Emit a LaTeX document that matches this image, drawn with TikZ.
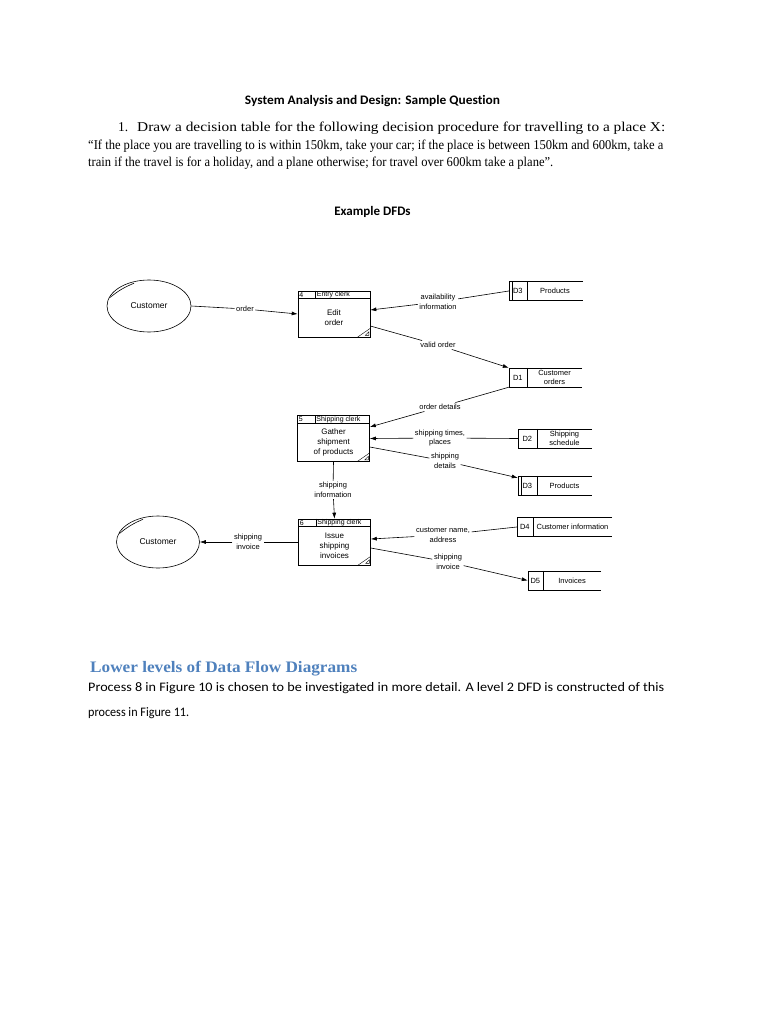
\documentclass[tikz,border=0pt]{standalone}
\usepackage{fontspec}
\usepackage{graphicx}
\setmainfont{Liberation Serif}
\newfontfamily\calib[Ligatures={NoCommon,NoRare,NoDiscretionary}]{Carlito}
\newfontfamily\arl{Liberation Sans}
\usetikzlibrary{arrows.meta,calc,shapes.geometric}
\definecolor{headblue}{HTML}{4F81BD}
\newcommand\dfdstore[6]{% name, center, width, divider offset, id, label
  \node[minimum width=#3, minimum height=19, inner sep=0] (#1) at #2 {};
  \draw[line] (#1.north east) -- (#1.north west) -- (#1.south west) -- (#1.south east);
  \draw[line] ([xshift=#4]#1.north west) -- ([xshift=#4]#1.south west);
  \node[sttxt] at ($(#1.west)!0.5!([xshift=#4]#1.west)$) {#5};
  \node[sttxt] at ($([xshift=#4]#1.west)!0.5!(#1.east)$) {#6};
}
\newcommand\dfdproc[5]{% name, center, number, who, body
  \node[procbox] (#1) at #2 {};
  \draw[line] ([yshift=-8pt]#1.north west) -- ([yshift=-8pt]#1.north east);
  \draw[line] ([xshift=18pt]#1.north west) -- ([xshift=18pt,yshift=-8pt]#1.north west);
  \node[hdtxt] at ([xshift=1.5pt,yshift=-4pt]#1.north west) {#3};
  \node[hdtxt] at ([xshift=19pt,yshift=-4pt]#1.north west) {#4};
  \node[bodytxt] at ([yshift=-4pt]#1.center) {#5};
  \draw[thin] ([xshift=-13pt]#1.south east) -- ([yshift=9pt]#1.south east);
  \draw[thin] ([xshift=-5pt,yshift=2pt]#1.south east) -- ([xshift=-1.5pt,yshift=5.5pt]#1.south east) -- ([xshift=-1.5pt,yshift=2pt]#1.south east) -- cycle;
}
\begin{document}
\begin{tikzpicture}[x=1pt,y=-1pt,
  line/.style={line width=0.6pt},
  flow/.style={line width=0.6pt,-{Latex[length=6pt,width=4pt]}},
  lbl/.style={font=\arl\fontsize{7.5}{9.5}\selectfont, align=center, inner sep=1.5pt},
  sttxt/.style={font=\arl\fontsize{7.5}{9.5}\selectfont, align=center, inner sep=0},
  hdtxt/.style={font=\arl\fontsize{7}{8}\selectfont, anchor=west, inner sep=0},
  bodytxt/.style={font=\arl\fontsize{8}{10}\selectfont, align=center, inner sep=0},
  procbox/.style={draw, line width=0.6pt, minimum width=72, minimum height=46, inner sep=0},
  extent/.style={draw, line width=0.6pt, shape=ellipse, inner sep=0, font=\arl\fontsize{8.5}{10}\selectfont},
  txt/.style={anchor=base west, inner sep=0}
]
\useasboundingbox (0,0) rectangle (768,1024);
\fill[white] (0,0) rectangle (768,1024);

% header text
\node[anchor=base, inner sep=0, font=\calib\bfseries\fontsize{13}{15}\selectfont] (title) at (372.5,105) {\resizebox{255pt}{\height}{System Analysis and Design: Sample Question}};
\node[txt, font=\fontsize{13.5}{16}\selectfont] (qnum) at (118,132) {1.};
\node[txt, font=\fontsize{13.5}{16}\selectfont] (q1) at (137,132) {\resizebox{528pt}{\height}{Draw a decision table for the following decision procedure for travelling to a place X:}};
\node[txt, font=\fontsize{13.5}{16}\selectfont] (q2) at (88,150) {\resizebox{575pt}{\height}{“If the place you are travelling to is within 150km, take your car; if the place is between 150km and 600km, take a}};
\node[txt, font=\fontsize{13.5}{16}\selectfont] (q3) at (88,167) {\resizebox{465pt}{\height}{train if the travel is for a holiday, and a plane otherwise; for travel over 600km take a plane”.}};
\node[anchor=base, inner sep=0, font=\calib\bfseries\fontsize{13}{15}\selectfont] (ex) at (372.5,215) {Example DFDs};

% DFD: externals
\node[extent, minimum width=84, minimum height=52] (cust1) at (149,306) {Customer};
\draw[line] ([xshift=1pt]cust1.168) to[bend left=8] ([xshift=3pt,yshift=-1pt]cust1.127);
\node[extent, minimum width=83, minimum height=52] (cust2) at (158,542) {Customer};
\draw[line] ([xshift=1pt]cust2.168) to[bend left=8] ([xshift=3pt,yshift=-1pt]cust2.127);

% processes
\dfdproc{p4}{(334,314)}{4}{Entry clerk}{Edit\\order}
\dfdproc{p5}{(333.5,438.5)}{5}{Shipping clerk}{Gather\\shipment\\of products}
\dfdproc{p6}{(334.5,542)}{6}{Shipping clerk}{Issue\\shipping\\invoices}

% stores
\dfdstore{d3a}{(546,291)}{74}{18pt}{D3}{Products}
\draw[line] ([xshift=3pt]d3a.north west) -- ([xshift=3pt]d3a.south west);
\dfdstore{d1}{(545.5,377.5)}{73}{18pt}{D1}{Customer\\orders}
\dfdstore{d2}{(555,438.5)}{74}{19pt}{D2}{Shipping\\schedule}
\dfdstore{d3b}{(555,485.5)}{74}{19pt}{D3}{Products}
\draw[line] ([xshift=3pt]d3b.north west) -- ([xshift=3pt]d3b.south west);
\dfdstore{d4}{(564.5,527)}{95}{16pt}{D4}{Customer information}
\dfdstore{d5}{(564.5,580.5)}{73}{15pt}{D5}{Invoices}

% flow labels
\node[lbl] (lOrder) at (245,309) {order};
\node[lbl] (lAvail) at (438,302) {availability\\information};
\node[lbl] (lValid) at (438,345) {valid order};
\node[lbl] (lOD) at (440,407) {order details};
\node[lbl] (lSTP) at (440,438) {shipping times,\\places};
\node[lbl] (lSD) at (445,461) {shipping\\details};
\node[lbl] (lSI) at (333,490) {shipping\\information};
\node[lbl] (lCNA) at (443,535) {customer name,\\address};
\node[lbl] (lSInv) at (448,562) {shipping\\invoice};
\node[lbl] (lInv) at (248,542) {shipping\\invoice};

% flows
\draw[flow] (cust1.east) -- (lOrder) -- (p4.west);
\draw[flow] (d3a.west) -- (lAvail) -- ([yshift=4pt]p4.east);
\draw[flow] ([yshift=-12pt]p4.east) -- (lValid) -- (d1.north west);
\draw[flow] (d1.south west) -- (lOD) -- ([yshift=11.5pt]p5.east);
\draw[flow] (d2.west) -- (lSTP) -- (p5.east);
\draw[flow] ([yshift=-8.5pt]p5.east) -- (lSD) -- ([yshift=-2pt]d3b.north west);
\draw[flow] (p5.south) -- (lSI) -- (p6.north);
\draw[flow] (d4.west) -- (lCNA) -- ([yshift=3pt]p6.east);
\draw[flow] ([yshift=-6pt]p6.east) -- (lSInv) -- (d5.west);
\draw[flow] (p6.west) -- (lInv) -- (cust2.east);

% lower text
\node[txt, font=\bfseries\fontsize{16}{18}\selectfont, text=headblue] (h2) at (90,672) {\resizebox{267pt}{\height}{Lower levels of Data Flow Diagrams}};
\node[txt, font=\calib\fontsize{13}{16}\selectfont] (b1) at (88,691) {\resizebox{576pt}{\height}{Process 8 in Figure 10 is chosen to be investigated in more detail. A level 2 DFD is constructed of this}};
\node[txt, font=\calib\fontsize{13}{16}\selectfont] (b2) at (88,716) {\resizebox{101pt}{\height}{process in Figure 11.}};
\end{tikzpicture}
\end{document}
